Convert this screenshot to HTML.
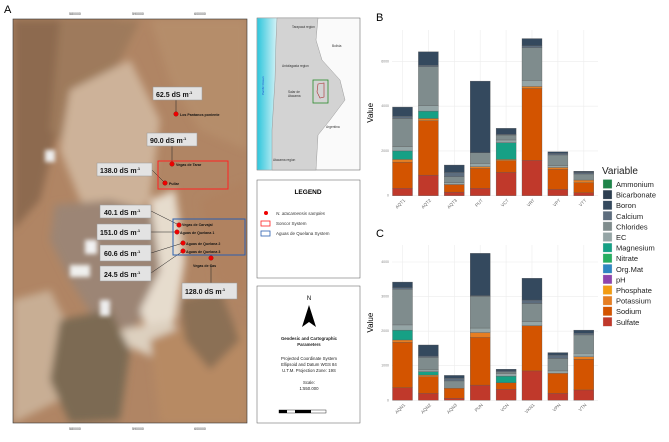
<!DOCTYPE html>
<html><head><meta charset="utf-8"><style>
html,body{margin:0;padding:0;background:#fff;}
body{width:669px;height:437px;overflow:hidden;font-family:"Liberation Sans",sans-serif;}
svg text{font-family:"Liberation Sans",sans-serif;}
</style></head><body>
<svg id="fig" width="669" height="437" viewBox="0 0 669 437" xmlns="http://www.w3.org/2000/svg">
<defs>
<filter id="blur4"><feGaussianBlur stdDeviation="4"/></filter>
<filter id="blur2"><feGaussianBlur stdDeviation="2"/></filter>
<clipPath id="mapclip"><rect x="13" y="19" width="234" height="404"/></clipPath>
<linearGradient id="ocean" x1="0" x2="1"><stop offset="0" stop-color="#2fc6dc"/><stop offset="1" stop-color="#d8f3f7"/></linearGradient>
</defs>
<text x="4" y="13" font-size="11">A</text>
<g clip-path="url(#mapclip)">
<rect x="13" y="19" width="234" height="404" fill="#b08564"/>
<g filter="url(#blur4)">
<path d="M13 19 L120 19 L90 60 L60 120 L40 200 L13 230Z" fill="#8d6a4f"/>
<path d="M60 20 L140 20 L110 80 L70 150 L50 130Z" fill="#9e7a5b"/>
<path d="M150 19 L247 19 L247 150 L200 130 L170 80Z" fill="#b58d6a"/>
<path d="M70 90 L130 60 L160 120 L150 200 L120 230 L80 200 L60 150Z" fill="#cdb299"/>
<path d="M55 205 L110 200 L165 215 L175 260 L160 300 L130 330 L95 320 L70 280 L50 240Z" fill="#9c8574"/>
<path d="M150 200 L175 190 L185 260 L175 320 L150 340 L140 310 L160 270Z" fill="#e6dccd"/>
<path d="M120 330 L170 320 L190 345 L160 360 L125 345Z" fill="#ddd0bf"/>
<path d="M13 300 L50 290 L70 330 L60 400 L13 423Z" fill="#c8ae94"/>
<path d="M60 320 L110 310 L130 350 L120 420 L70 423 L50 380Z" fill="#7c6a53"/>
<path d="M150 340 L200 320 L247 330 L247 423 L160 423Z" fill="#b78a63"/>
<path d="M180 300 L220 290 L240 340 L210 370 L185 340Z" fill="#8b6f55"/>
<path d="M200 200 L247 180 L247 300 L215 280Z" fill="#b08260"/>
</g>
<g filter="url(#blur2)">
<rect x="85" y="240" width="12" height="14" fill="#f2f2f2"/>
<rect x="70" y="265" width="20" height="12" fill="#f0f0ee"/>
<rect x="100" y="300" width="10" height="16" fill="#eeeeee"/>
<rect x="45" y="150" width="10" height="12" fill="#eee"/>
</g>
</g>
<rect x="13" y="19" width="234" height="404" fill="none" stroke="#333" stroke-width="0.6"/>
<g font-size="3.5" fill="#333">
<text x="75" y="15" text-anchor="middle">580000</text><text x="138" y="15" text-anchor="middle">590000</text><text x="200" y="15" text-anchor="middle">600000</text>
<text x="75" y="430" text-anchor="middle">580000</text><text x="138" y="430" text-anchor="middle">590000</text><text x="200" y="430" text-anchor="middle">600000</text>
</g>
<!-- label boxes -->
<g font-size="7" font-weight="bold" fill="#111">
<g stroke="#222" stroke-width="0.5">
<line x1="176" y1="100" x2="176" y2="114"/><line x1="172" y1="146" x2="172" y2="164"/><line x1="152" y1="170" x2="165" y2="183"/>
<line x1="151" y1="211" x2="179" y2="225"/><line x1="151" y1="232" x2="177" y2="232"/><line x1="151" y1="253" x2="183" y2="243"/>
<line x1="151" y1="273" x2="183" y2="251"/><line x1="211" y1="265" x2="211" y2="283"/>
</g>
<g fill="#e3e3e3" stroke="#999" stroke-width="0.5">
<rect x="153" y="87" width="49" height="13"/><rect x="147" y="133" width="50" height="13"/><rect x="97" y="163" width="55" height="13"/>
<rect x="100" y="205" width="51" height="13"/><rect x="97" y="224" width="54" height="16"/><rect x="100" y="245" width="51" height="16"/>
<rect x="100" y="266" width="51" height="15"/><rect x="182" y="283" width="55" height="16"/>
</g>
<text x="156" y="97">62.5 dS m<tspan font-size="4" dy="-3">-1</tspan></text>
<text x="150" y="143">90.0 dS m<tspan font-size="4" dy="-3">-1</tspan></text>
<text x="100" y="173">138.0 dS m<tspan font-size="4" dy="-3">-1</tspan></text>
<text x="104" y="215">40.1 dS m<tspan font-size="4" dy="-3">-1</tspan></text>
<text x="100" y="235">151.0 dS m<tspan font-size="4" dy="-3">-1</tspan></text>
<text x="104" y="256">60.6 dS m<tspan font-size="4" dy="-3">-1</tspan></text>
<text x="104" y="277">24.5 dS m<tspan font-size="4" dy="-3">-1</tspan></text>
<text x="185" y="294">128.0 dS m<tspan font-size="4" dy="-3">-1</tspan></text>
</g>
<rect x="158" y="161" width="70" height="28" fill="none" stroke="#f22" stroke-width="1"/>
<rect x="173" y="219" width="72" height="36" fill="none" stroke="#2b5fb0" stroke-width="1"/>
<g fill="#e00" stroke="#800" stroke-width="0.3">
<circle cx="176" cy="114" r="2.3"/><circle cx="172" cy="164" r="2.3"/><circle cx="165" cy="183" r="2.3"/>
<circle cx="179" cy="225" r="2.3"/><circle cx="177" cy="232" r="2.3"/><circle cx="183" cy="243" r="2.3"/><circle cx="183" cy="251" r="2.3"/><circle cx="211" cy="258" r="2.3"/>
</g>
<g font-size="3.6" font-weight="bold" fill="#111">
<text x="180" y="116">Los Pantanos poniente</text><text x="176" y="166">Vegas de Tarar</text><text x="169" y="185">Pullar</text>
<text x="182" y="226">Vegas de Carvajal</text><text x="180" y="234">Aguas de Quelana 1</text><text x="186" y="245">Aguas de Quelana 2</text><text x="186" y="253">Aguas de Quelana 3</text><text x="193" y="267">Vegas de Cas</text>
</g>
<!-- inset -->
<g>
<rect x="257" y="18" width="103" height="152" fill="#fafafa" stroke="#555" stroke-width="0.5"/>
<rect x="257.3" y="18.3" width="20" height="151.4" fill="url(#ocean)"/>
<path d="M277 18 L318 18 L316 40 L322 60 L340 80 L345 100 L330 120 L318 135 L316 170 L272 170 L272 130 L275 80 L276 40Z" fill="#d3d3d3" stroke="#888" stroke-width="0.4"/>
<rect x="313" y="80" width="15" height="23" fill="none" stroke="#2a8a2a" stroke-width="0.8"/>
<path d="M318 84 L324 83 L324 97 L320 98 L317 92Z" fill="none" stroke="#a33" stroke-width="0.6"/>
<g font-size="3.2" fill="#333"><text x="292" y="28">Tarapacá region</text><text x="332" y="47">Bolivia</text><text x="282" y="67">Antofagasta region</text><text x="288" y="93">Salar de</text><text x="288" y="97">Atacama</text><text x="326" y="128">Argentina</text><text x="273" y="161">Atacama region</text></g>
<text x="264" y="95" font-size="3" fill="#1a4fd0" transform="rotate(-90 264 95)">Pacific Ocean</text>
</g>
<!-- legend box -->
<g>
<rect x="257" y="180" width="103" height="98" fill="#fff" stroke="#555" stroke-width="0.5"/>
<text x="308" y="194" font-size="6.5" font-weight="bold" text-anchor="middle">LEGEND</text>
<circle cx="266" cy="213" r="2" fill="#e00"/>
<text x="276" y="215" font-size="4.5" font-style="italic" fill="#333">N. atacamensis samples</text>
<rect x="261" y="221" width="9" height="5" fill="none" stroke="#f22" stroke-width="0.8"/><text x="276" y="225" font-size="4.5" fill="#333">Soncor System</text>
<rect x="261" y="231" width="9" height="5" fill="none" stroke="#2b5fb0" stroke-width="0.8"/><text x="276" y="235" font-size="4.5" fill="#333">Aguas de Quelana System</text>
</g>
<g>
<rect x="257" y="286" width="103" height="137" fill="#fff" stroke="#555" stroke-width="0.5"/>
<text x="309" y="300" font-size="6" text-anchor="middle" font-family="Liberation Serif">N</text>
<path d="M309 305 L316 327 L309 322 L302 327Z" fill="#000"/>
<g font-size="4.3" text-anchor="middle" fill="#222">
<text x="309" y="340" font-weight="bold">Geodesic and Cartographic</text><text x="309" y="346" font-weight="bold">Parameters</text>
<text x="309" y="360">Projected Coordinate System</text><text x="309" y="366">Ellipsoid and Datum WGS 84</text><text x="309" y="372">U.T.M. Projection  Zone: 19S</text>
<text x="309" y="384">Scale:</text><text x="309" y="390">1:550.000</text>
</g>
<rect x="279" y="410" width="47" height="3" fill="#fff" stroke="#000" stroke-width="0.4"/>
<rect x="279" y="410" width="8" height="3" fill="#000"/><rect x="295" y="410" width="16" height="3" fill="#000"/>
</g>
<g id="chartB"></g>
<g id="chartC"></g>
<g id="legend"></g>
</svg>
<script>
const categoriesB = ["AQT1","AQT2","AQT3","PUT","VCT","VRT","VPT","VTT"];
const categoriesC = ["AQN1","AQN2","AQN3","PUN","VCN","VKN1","VPN","VTN"];
const variables = ["Ammonium","Bicarbonate","Boron","Calcium","Chlorides","EC","Magnesium","Nitrate","Org.Mat","pH","Phosphate","Potassium","Sodium","Sulfate"];
const colors = ["#1e8449","#2c3e50","#34495e","#5d6d7e","#7f8c8d","#95a5a6","#16a085","#27ae60","#2e86c1","#8e44ad","#f39c12","#e67e22","#d35400","#c0392b"];
// values per variable, bottom-first stacking: Sulfate, Sodium, Potassium, Magnesium, EC, Chlorides, Calcium, Boron, Bicarbonate
const sulfateB = [330,920,160,330,1040,1580,280,130];
const sodiumB = [1170,2430,340,890,520,3210,900,450];
const potassiumB = [120,100,0,80,60,90,80,120];
const magnesiumB = [380,330,0,0,750,0,0,0];
const ecB = [190,250,80,140,120,270,80,0];
const chloridesB = [1260,1730,270,480,220,1460,480,270];
const calciumB = [100,70,190,0,40,90,70,70];
const boronB = [410,600,330,3200,260,320,70,0];
const bicarbonateB = [0,0,0,0,0,0,0,50];
const ticksB = [0,2000,4000,6000];
const sulfateC = [366,200,60,440,320,850,200,300];
const sodiumC = [1314,480,290,1380,190,1310,580,890];
const potassiumC = [65,50,0,140,0,0,0,70];
const magnesiumC = [285,100,0,0,190,0,0,0];
const ecC = [150,50,0,130,70,110,70,100];
const chloridesC = [1030,360,210,920,50,530,360,530];
const calciumC = [50,40,80,20,30,100,100,50];
const boronC = [160,320,80,1220,50,630,70,90];
const bicarbonateC = [0,0,0,0,0,0,0,0];
const ticksC = [0,1000,2000,3000,4000];

const NS="http://www.w3.org/2000/svg";
function mk(tag,attrs,parent){const e=document.createElementNS(NS,tag);for(const k in attrs)e.setAttribute(k,attrs[k]);parent.appendChild(e);return e;}

function drawChart(g,cats,series,ticks,y0,pxPerUnit,topY,letter,letterY){
  const x0=392,x1=598;
  const xs=i=>402.5+i*25.9;
  const ys=v=>y0-v*pxPerUnit;
  const lt=mk('text',{x:376,y:letterY,'font-size':11},g);lt.textContent=letter;
  
  
  for(let i=0;i<cats.length;i++){
    const l=mk('line',{x1:xs(i),x2:xs(i),y1:topY,y2:y0,stroke:'#ececec','stroke-width':0.6},g);
    
    
  }
  ticks.forEach(t=>{
    const l=mk('line',{x1:x0,x2:x1,y1:ys(t),y2:ys(t),stroke:'#ececec','stroke-width':0.6},g);
    
    
    const tx=mk('text',{x:389,y:ys(t)+1,'font-size':3.5,fill:'#888','text-anchor':'end'},g);tx.textContent=t;
    
    
  });
  const yl=mk('text',{x:0,y:0,'font-size':8,'text-anchor':'middle',transform:`translate(373 ${(y0+topY)/2}) rotate(-90)`},g);yl.textContent='Value';
  
  
  cats.forEach((c,i)=>{
    let acc=0;
    series.forEach(s=>{
      const v=s.vals[i]; if(!v)return;
      const r=mk('rect',{x:xs(i)-10,y:ys(acc+v),width:20,height:v*pxPerUnit,fill:s.color,stroke:'#555','stroke-width':0.3},g);
      
      
      acc+=v;
    });
    const tl=mk('text',{x:0,y:0,'font-size':4.5,fill:'#666','text-anchor':'end',transform:`translate(${xs(i)+3} ${y0+5}) rotate(-45)`},g);tl.textContent=c;
    
    
  });
}
function col(n){return colors[variables.indexOf(n)];}
drawChart(document.getElementById('chartB'),categoriesB,[
 {name:'Sulfate',vals:sulfateB,color:col('Sulfate')},{name:'Sodium',vals:sodiumB,color:col('Sodium')},{name:'Potassium',vals:potassiumB,color:col('Potassium')},
 {name:'Magnesium',vals:magnesiumB,color:col('Magnesium')},{name:'EC',vals:ecB,color:col('EC')},{name:'Chlorides',vals:chloridesB,color:col('Chlorides')},
 {name:'Calcium',vals:calciumB,color:col('Calcium')},{name:'Boron',vals:boronB,color:col('Boron')},{name:'Bicarbonate',vals:bicarbonateB,color:col('Bicarbonate')}
],ticksB,195.7,134.3/6000*3/3*1,30,'B',21);
drawChart(document.getElementById('chartC'),categoriesC,[
 {name:'Sulfate',vals:sulfateC,color:col('Sulfate')},{name:'Sodium',vals:sodiumC,color:col('Sodium')},{name:'Potassium',vals:potassiumC,color:col('Potassium')},
 {name:'Magnesium',vals:magnesiumC,color:col('Magnesium')},{name:'EC',vals:ecC,color:col('EC')},{name:'Chlorides',vals:chloridesC,color:col('Chlorides')},
 {name:'Calcium',vals:calciumC,color:col('Calcium')},{name:'Boron',vals:boronC,color:col('Boron')},{name:'Bicarbonate',vals:bicarbonateC,color:col('Bicarbonate')}
],ticksC,400.3,138.3/4000,245,'C',237);
const lg=document.getElementById('legend');
const tt=mk('text',{x:602,y:174,'font-size':10,fill:'#222'},lg);tt.textContent='Variable';


variables.forEach((v,i)=>{
  const y=184+i*10.6;
  const r=mk('rect',{x:603,y:y-4.5,width:9,height:9,fill:colors[i],stroke:'#ddd','stroke-width':0.3},lg);
  
  
  const t=mk('text',{x:616,y:y+3,'font-size':7.5,fill:'#222'},lg);t.textContent=v;
  
  
});
</script>
</body></html>
